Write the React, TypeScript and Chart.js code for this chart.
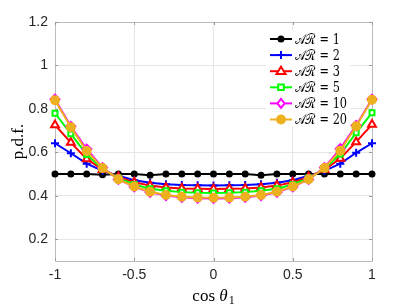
import React, { useEffect, useRef } from 'react';
import { Chart, registerables } from 'chart.js';

Chart.register(...registerables);

const xValues = [-1, -0.9, -0.8, -0.7, -0.6, -0.5, -0.4, -0.3, -0.2, -0.1, 0, 0.1, 0.2, 0.3, 0.4, 0.5, 0.6, 0.7, 0.8, 0.9, 1];
const ar1 = [0.5, 0.5, 0.5, 0.497, 0.5, 0.5, 0.495, 0.5, 0.5, 0.5, 0.5, 0.5, 0.5, 0.495, 0.5, 0.5, 0.5, 0.5, 0.5, 0.5, 0.5];
const ar2 = [0.642, 0.596, 0.548, 0.515, 0.492, 0.472, 0.46, 0.453, 0.45, 0.449, 0.448, 0.449, 0.45, 0.453, 0.46, 0.472, 0.492, 0.515, 0.548, 0.598, 0.642];
const ar3 = [0.726, 0.645, 0.57, 0.52, 0.487, 0.462, 0.447, 0.438, 0.434, 0.432, 0.431, 0.432, 0.434, 0.438, 0.447, 0.462, 0.487, 0.52, 0.572, 0.648, 0.728];
const ar5 = [0.78, 0.685, 0.59, 0.525, 0.482, 0.452, 0.433, 0.423, 0.417, 0.414, 0.413, 0.414, 0.417, 0.423, 0.433, 0.452, 0.482, 0.525, 0.592, 0.69, 0.782];
const ar10 = [0.845, 0.72, 0.615, 0.53, 0.476, 0.441, 0.416, 0.401, 0.393, 0.389, 0.388, 0.389, 0.393, 0.401, 0.416, 0.441, 0.476, 0.53, 0.617, 0.724, 0.845];
const ar20 = [0.84, 0.716, 0.606, 0.528, 0.476, 0.443, 0.419, 0.404, 0.396, 0.392, 0.391, 0.392, 0.396, 0.404, 0.419, 0.443, 0.476, 0.528, 0.608, 0.72, 0.842];
const xTicks = [-1, -0.5, 0, 0.5, 1];
const yTicks = [0.2, 0.4, 0.6, 0.8, 1, 1.2];
const legendLabels = ['\u{1D49C}\u211B = 1', '\u{1D49C}\u211B = 2', '\u{1D49C}\u211B = 3', '\u{1D49C}\u211B = 5', '\u{1D49C}\u211B = 10', '\u{1D49C}\u211B = 20'];

const seriesList = [ar1, ar2, ar3, ar5, ar10, ar20];
const colors = ['#000000', '#0000ff', '#ff0000', '#00ff00', '#ff00ff', '#edb120'];
const pointStyles = ['circle', 'cross', 'triangle', 'rect', 'rectRot', 'circle'];
const pointRadii = [2.5, 4, 4.5, 3.5, 4.5, 4];
const pointFills = ['#000000', '#0000ff', '#ffffff', '#ffffff', '#ffffff', '#edb120'];

const fmt = (v: number) => String(v);

function drawMarker(ctx: CanvasRenderingContext2D, style: string, r: number, fill: string, stroke: string, x: number, y: number) {
  ctx.save();
  ctx.fillStyle = fill;
  ctx.strokeStyle = stroke;
  ctx.lineWidth = 2;
  ctx.beginPath();
  if (style === 'circle') {
    ctx.arc(x, y, r, 0, Math.PI * 2);
    ctx.fill();
    ctx.stroke();
  } else if (style === 'cross') {
    ctx.moveTo(x - r, y);
    ctx.lineTo(x + r, y);
    ctx.moveTo(x, y - r);
    ctx.lineTo(x, y + r);
    ctx.stroke();
  } else if (style === 'triangle') {
    const h = r * 1.5;
    ctx.moveTo(x, y - r);
    ctx.lineTo(x + r * 0.87 * 1.15, y + r * 0.6);
    ctx.lineTo(x - r * 0.87 * 1.15, y + r * 0.6);
    ctx.closePath();
    void h;
    ctx.fill();
    ctx.stroke();
  } else if (style === 'rect') {
    const s = r * 0.8;
    ctx.rect(x - s, y - s, s * 2, s * 2);
    ctx.fill();
    ctx.stroke();
  } else if (style === 'rectRot') {
    ctx.moveTo(x, y - r);
    ctx.lineTo(x + r * 0.8, y);
    ctx.lineTo(x, y + r);
    ctx.lineTo(x - r * 0.8, y);
    ctx.closePath();
    ctx.fill();
    ctx.stroke();
  }
  ctx.restore();
}

const decorPlugin = {
  id: 'decor',
  beforeDatasetsDraw(chart: any) {
    const { ctx, chartArea } = chart;
    const { left, right, top, bottom } = chartArea;
    const xs = chart.scales.x;
    const ys = chart.scales.y;
    ctx.save();
    ctx.strokeStyle = '#bcbcbc';
    ctx.lineWidth = 1;
    ctx.beginPath();
    ctx.rect(Math.round(left) + 0.5, Math.round(top) + 0.5, Math.round(right - left), Math.round(bottom - top));
    ctx.stroke();
    ctx.strokeStyle = '#9a9a9a';
    ctx.beginPath();
    xTicks.forEach((v) => {
      const px = Math.round(xs.getPixelForValue(v)) + 0.5;
      ctx.moveTo(px, bottom);
      ctx.lineTo(px, bottom - 3);
      ctx.moveTo(px, top);
      ctx.lineTo(px, top + 3);
    });
    yTicks.forEach((v) => {
      const py = Math.round(ys.getPixelForValue(v)) + 0.5;
      ctx.moveTo(left, py);
      ctx.lineTo(left + 3, py);
      ctx.moveTo(right, py);
      ctx.lineTo(right - 3, py);
    });
    ctx.stroke();
    ctx.restore();
  },
  afterDraw(chart: any) {
    const { ctx, chartArea } = chart;
    const { left, right, top, bottom } = chartArea;
    ctx.save();
    // legend
    ctx.fillStyle = '#ffffff';
    ctx.fillRect(266, 30, 84, 97);
    chart.data.datasets.forEach((ds: any, i: number) => {
      const cy = 39 + i * 16.1;
      ctx.strokeStyle = ds.borderColor;
      ctx.lineWidth = 2;
      ctx.beginPath();
      ctx.moveTo(270, cy);
      ctx.lineTo(292, cy);
      ctx.stroke();
      drawMarker(ctx, ds.pointStyle, ds.pointRadius, ds.pointBackgroundColor, ds.pointBorderColor, 281, cy);
      ctx.fillStyle = '#000000';
      ctx.font = '14px "DejaVu Serif", "Liberation Serif", serif';
      ctx.textBaseline = 'middle';
      ctx.textAlign = 'left';
      const label = legendLabels[i];
      const w = ctx.measureText('\u{1D49C}\u211B = 20').width;
      const scale = Math.min(1, 52 / w);
      ctx.save();
      ctx.translate(295, cy + 1);
      ctx.scale(scale, 1);
      ctx.fillText(label, 0, 0);
      ctx.restore();
    });
    // x title
    ctx.fillStyle = '#000000';
    ctx.textBaseline = 'alphabetic';
    const cx = (left + right) / 2;
    const by = 301;
    ctx.font = '17px "Liberation Serif", "DejaVu Serif", serif';
    const w1 = ctx.measureText('cos ').width;
    ctx.font = 'italic 17px "Liberation Serif", "DejaVu Serif", serif';
    const w2 = ctx.measureText('\u03B8').width;
    ctx.font = '12px "Liberation Serif", "DejaVu Serif", serif';
    const w3 = ctx.measureText('1').width;
    let sx = cx - (w1 + w2 + w3 + 1) / 2;
    ctx.textAlign = 'left';
    ctx.font = '17px "Liberation Serif", "DejaVu Serif", serif';
    ctx.fillText('cos ', sx, by);
    sx += w1;
    ctx.font = 'italic 17px "Liberation Serif", "DejaVu Serif", serif';
    ctx.fillText('\u03B8', sx, by);
    sx += w2 + 1;
    ctx.font = '12px "Liberation Serif", "DejaVu Serif", serif';
    ctx.fillText('1', sx, by + 3);
    // y title
    ctx.save();
    ctx.translate(19, (top + bottom) / 2);
    ctx.rotate(-Math.PI / 2);
    ctx.textAlign = 'center';
    ctx.textBaseline = 'middle';
    ctx.font = '17px "Liberation Serif", "DejaVu Serif", serif';
    ctx.fillText('p.d.f.', 0, 0);
    ctx.restore();
    ctx.restore();
  },
};

export default function App() {
  const ref = useRef<HTMLCanvasElement | null>(null);
  useEffect(() => {
    document.body.style.margin = '0';
    const canvas = ref.current;
    if (!canvas) return;
    const datasets = seriesList.map((arr, i) => ({
      label: legendLabels[i],
      data: xValues.map((x, j) => ({ x, y: arr[j] })),
      borderColor: colors[i],
      backgroundColor: colors[i],
      borderWidth: 2,
      pointStyle: pointStyles[i],
      pointRadius: pointRadii[i],
      pointBackgroundColor: pointFills[i],
      pointBorderColor: colors[i],
      pointBorderWidth: 2,
      tension: 0,
      clip: false,
      order: 6 - i,
    }));
    const chart = new Chart(canvas, {
      type: 'line',
      data: { datasets },
      options: {
        animation: false,
        responsive: false,
        devicePixelRatio: 1,
        layout: { padding: { top: 22, right: 39, left: 0, bottom: 0 } },
        plugins: { legend: { display: false }, tooltip: { enabled: false } },
        scales: {
          x: {
            type: 'linear',
            min: -1,
            max: 1,
            afterBuildTicks: (s: any) => {
              s.ticks = xTicks.map((v) => ({ value: v }));
            },
            afterFit: (s: any) => {
              s.height = 47;
            },
            grid: { color: '#e6e6e6', drawTicks: false, lineWidth: 1 },
            border: { display: false },
            ticks: {
              padding: 6,
              color: '#262626',
              font: { family: '"Liberation Sans", Arial, sans-serif', size: 14 },
              maxRotation: 0,
              callback: (v: any) => fmt(v),
            },
          },
          y: {
            type: 'linear',
            min: 0.1,
            max: 1.2,
            afterBuildTicks: (s: any) => {
              s.ticks = yTicks.map((v) => ({ value: v }));
            },
            afterFit: (s: any) => {
              s.width = 55;
            },
            grid: { color: '#e6e6e6', drawTicks: false, lineWidth: 1 },
            border: { display: false },
            ticks: {
              padding: 7,
              color: '#262626',
              font: { family: '"Liberation Sans", Arial, sans-serif', size: 14 },
              callback: (v: any) => fmt(v),
            },
          },
        },
      },
      plugins: [decorPlugin],
    } as any);
    return () => chart.destroy();
  }, []);
  return (
    <div style={{ width: 411, height: 308 }}>
      <canvas ref={ref} width={411} height={308} />
    </div>
  );
}
